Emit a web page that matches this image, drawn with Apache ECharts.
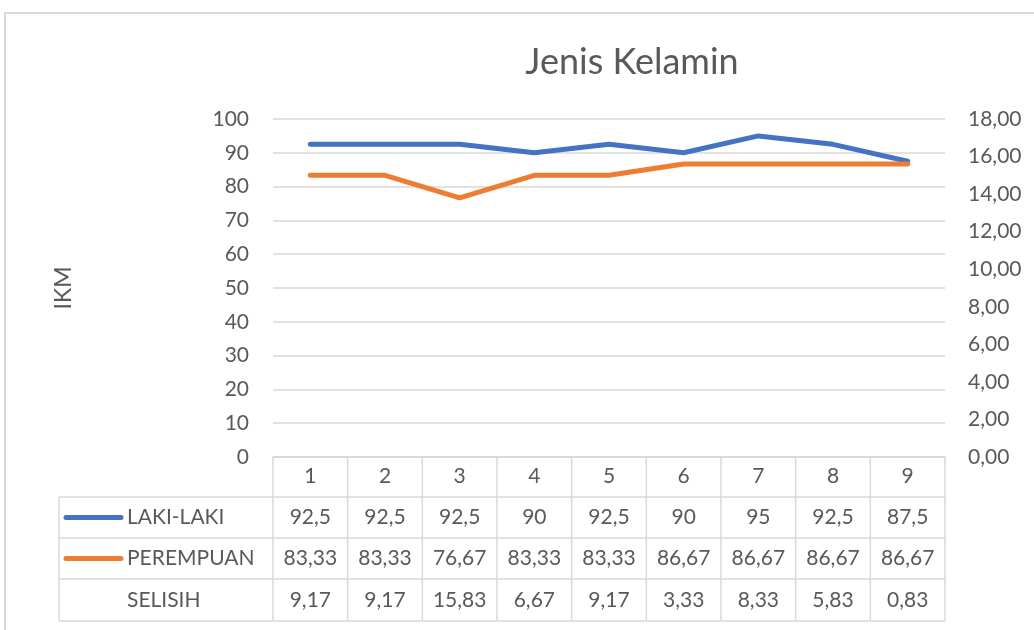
<!DOCTYPE html>
<html>
<head>
<meta charset="utf-8">
<script src="https://cdn.jsdelivr.net/npm/echarts@6/dist/echarts.min.js"></script>
<style>html,body{margin:0;padding:0;background:#fff;}#c{width:1034px;height:630px;}</style>
</head>
<body>
<div id="c"></div>
<script>
const titleText = 'Jenis Kelamin';
const categories = ['1','2','3','4','5','6','7','8','9'];
const seriesNames = ['LAKI-LAKI','PEREMPUAN','SELISIH'];
const lakiLaki = [92.5,92.5,92.5,90,92.5,90,95,92.5,87.5];
const perempuan = [83.33,83.33,76.67,83.33,83.33,86.67,86.67,86.67,86.67];
const selisih = [9.17,9.17,15.83,6.67,9.17,3.33,8.33,5.83,0.83];
const leftTicks = {min:0, max:100, step:10};
const rightTicks = {min:0, max:18, step:2};

const FONT = 'Lato, "Open Sans", sans-serif';
const TXT = '#595959';
const GRID = '#d9d9d9';
const COLORS = ['#4472C4','#ED7D31'];
const FS = 21;

const fmt = v => String(v).replace('.', ',');

const chart = echarts.init(document.getElementById('c'), null, {renderer:'canvas'});
const gridTop = 119, gridBottomY = 457, gridLeft = 273, gridRight = 945;
chart.setOption({
  animation:false,
  textStyle:{fontFamily:FONT},
  grid:{left:gridLeft, right:1034-gridRight, top:gridTop, bottom:630-gridBottomY},
  xAxis:{type:'category', data:categories, boundaryGap:true,
    axisLine:{show:true, lineStyle:{color:GRID, width:1.5}},
    axisTick:{show:false},
    axisLabel:{fontSize:FS, color:TXT, margin:9, fontFamily:FONT}},
  yAxis:[
    {type:'value', min:leftTicks.min, max:leftTicks.max, interval:leftTicks.step,
     name:'IKM', nameLocation:'middle', nameGap:198,
     nameTextStyle:{fontSize:23, color:TXT, fontFamily:FONT},
     axisLine:{show:false}, axisTick:{show:false},
     axisLabel:{fontSize:FS, color:TXT, margin:24, fontFamily:FONT},
     splitLine:{lineStyle:{color:GRID, width:1.5}}},
    {type:'value', position:'right', min:rightTicks.min, max:rightTicks.max, interval:rightTicks.step,
     axisLine:{show:false}, axisTick:{show:false}, splitLine:{show:false},
     axisLabel:{fontSize:FS, color:TXT, margin:23, fontFamily:FONT, formatter:v=>v.toFixed(2).replace('.',',')}}
  ],
  series:[
    {name:seriesNames[0], type:'line', data:lakiLaki, symbol:'none', yAxisIndex:0,
     lineStyle:{width:5, color:COLORS[0], cap:'round', join:'round'}, itemStyle:{color:COLORS[0]}},
    {name:seriesNames[1], type:'line', data:perempuan, symbol:'none', yAxisIndex:0,
     lineStyle:{width:5, color:COLORS[1], cap:'round', join:'round'}, itemStyle:{color:COLORS[1]}}
  ]
});

// Build data table below the plot, aligned with the category axis
const centers = categories.map(c => chart.convertToPixel({xAxisIndex:0}, c));
const band = centers.length > 1 ? centers[1]-centers[0] : 75;
const bounds = centers.map(c => c - band/2).concat([centers[centers.length-1] + band/2]);
const rowTops = [gridBottomY, 497, 538, 579, 621];
const tableLeft = 59;
const rows = [lakiLaki, perempuan, selisih];
const g = [];
g.push({type:'rect', shape:{x:5, y:13, width:1100, height:700}, style:{fill:null, stroke:'#d9d9d9', lineWidth:2}, silent:true});
g.push({type:'text', x:632, y:62, style:{text:titleText, font:'normal 36px '+FONT, fill:TXT, align:'center', verticalAlign:'middle'}});
for (let r = 0; r < rowTops.length; r++) {
  const x1 = r === 0 ? bounds[0] : tableLeft;
  g.push({type:'line', shape:{x1:x1, y1:rowTops[r], x2:bounds[bounds.length-1], y2:rowTops[r]}, style:{stroke:GRID, lineWidth:1.5}});
}
bounds.forEach(x => g.push({type:'line', shape:{x1:x, y1:rowTops[0], x2:x, y2:rowTops[4]}, style:{stroke:GRID, lineWidth:1.5}}));
g.push({type:'line', shape:{x1:tableLeft, y1:rowTops[1], x2:tableLeft, y2:rowTops[4]}, style:{stroke:GRID, lineWidth:1.5}});
rows.forEach((vals, r) => {
  const cy = (rowTops[r+1] + rowTops[r+2]) / 2;
  if (r < 2) {
    g.push({type:'line', shape:{x1:66, y1:cy, x2:121, y2:cy}, style:{stroke:COLORS[r], lineWidth:5, lineCap:'round'}});
  }
  g.push({type:'text', x:127, y:cy, style:{text:seriesNames[r], font:FS+'px '+FONT, fill:TXT, align:'left', verticalAlign:'middle'}});
  vals.forEach((v, i) => {
    g.push({type:'text', x:centers[i], y:cy, style:{text:fmt(v), font:FS+'px '+FONT, fill:TXT, align:'center', verticalAlign:'middle'}});
  });
});
chart.setOption({graphic:g});
</script>
</body>
</html>
